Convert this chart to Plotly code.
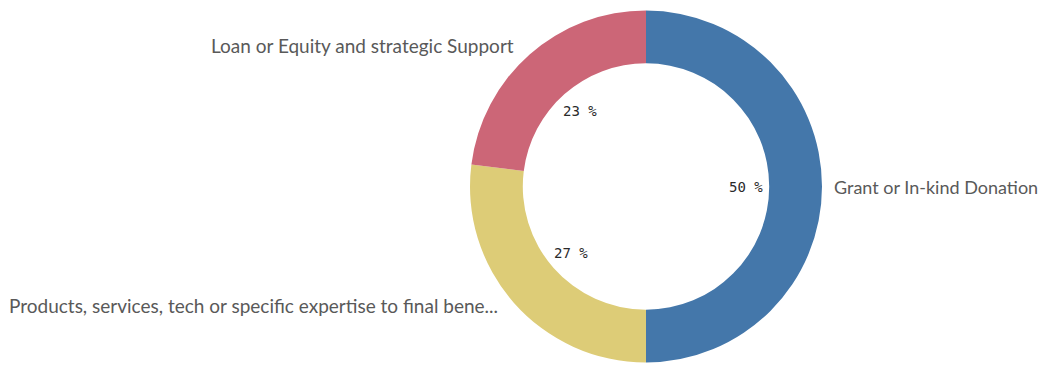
import math
import plotly.graph_objects as go

categories = ["Grant or In-kind Donation",
              "Products, services, tech or specific expertise to final bene...",
              "Loan or Equity and strategic Support"]
values = [50, 27, 23]
colors = ["#4477aa", "#ddcc77", "#cc6677"]

W, H = 1047, 367
cx, cy, R = 646.0, 186.5, 176.0   # pixel centre/radius of the donut

fig = go.Figure(go.Pie(
    labels=categories, values=values, sort=False, direction="clockwise",
    rotation=0, hole=0.70, marker=dict(colors=colors, line=dict(width=0)),
    textinfo="none", hoverinfo="label+percent", showlegend=False,
    domain=dict(x=[(cx - R) / W, (cx + R) / W], y=[1 - (cy + R) / H, 1 - (cy - R) / H]),
))

annotations = []
total = sum(values)
cum = 0
for v in values:
    mid = (cum + v / 2) / total * 2 * math.pi
    cum += v
    r = 100
    px = cx + r * math.sin(mid)
    py = cy - r * math.cos(mid)
    annotations.append(dict(x=px / W, y=1 - py / H, xref="paper", yref="paper",
                            xanchor="center", yanchor="middle",
                            text=f"{round(v / total * 100)} %", showarrow=False,
                            font=dict(family="DejaVu Sans Mono", size=14, color="#2a2a2a")))

label_pos = [(832, 187, "left", 18), (500, 305, "right", 19), (516, 46, "right", 19)]
for cat, (lx, ly, anc, fs) in zip(categories, label_pos):
    annotations.append(dict(x=lx / W, y=1 - ly / H, xref="paper", yref="paper",
                            text=cat, showarrow=False, xanchor=anc, yanchor="middle",
                            font=dict(family="Lato", size=fs, color="#595959")))

fig.update_layout(width=W, height=H, margin=dict(l=0, r=0, t=0, b=0),
                  paper_bgcolor="white", plot_bgcolor="white",
                  annotations=annotations)
fig.write_html("out.html")
